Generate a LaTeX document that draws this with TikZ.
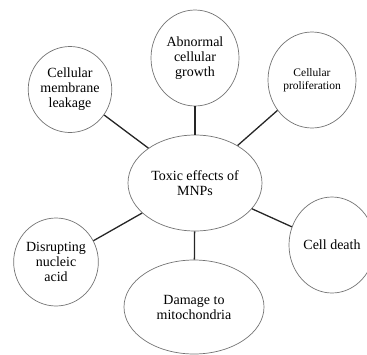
\documentclass[tikz,border=0pt]{standalone}
\usepackage{fontspec}
\setmainfont{Liberation Serif}
\usetikzlibrary{shapes.geometric}
\begin{document}
\begin{tikzpicture}[x=1pt,y=-1pt,
  bub/.style={draw=black!55, line width=0.7pt, ellipse, inner sep=0pt, align=center,
    font=\fontsize{14}{15}\selectfont},
  link/.style={draw=black!85, line width=1.3pt}]
\useasboundingbox (0,0) rectangle (367,354);
\node[bub, minimum width=134pt, minimum height=96pt] (c) at (195,183) {Toxic effects of\\MNPs};
\node[bub, minimum width=88pt, minimum height=96pt] (g) at (195,58) {Abnormal\\cellular\\growth};
\node[bub, minimum width=82pt, minimum height=86pt] (l) at (70,89.5) {Cellular\\membrane\\leakage};
\node[bub, minimum width=88pt, minimum height=96pt, font=\fontsize{11.5}{13}\selectfont] (p) at (312,80) {Cellular\\proliferation};
\node[bub, minimum width=82pt, minimum height=88pt] (d) at (56,262) {Disrupting\\nucleic\\acid};
\node[bub, minimum width=86pt, minimum height=96pt] (k) at (332,245) {Cell death};
\node[bub, minimum width=140pt, minimum height=94pt] (m) at (194,307) {Damage to\\mitochondria};
\draw[link] (l) -- (c);
\draw[link] (g) -- (c);
\draw[link] (p) -- (c);
\draw[link] (d) -- (c);
\draw[link] (k) -- (c);
\draw[link] (m) -- (c);
\end{tikzpicture}
\end{document}
